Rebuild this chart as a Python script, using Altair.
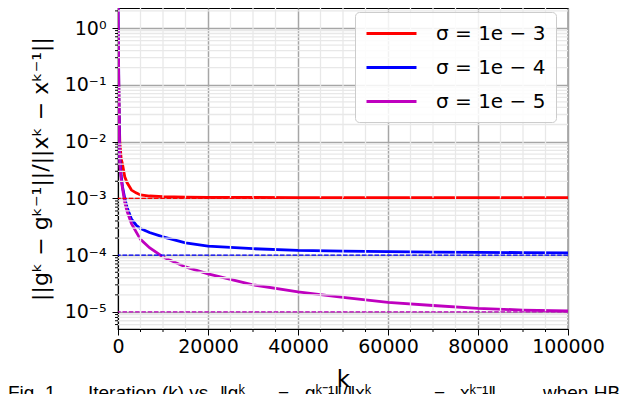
import altair as alt
import pandas as pd

# ---- data ----
k_vals = [0, 100, 200, 400, 700, 1000, 1500, 2000, 3000, 4000, 5000, 7000,
          10000, 15000, 20000, 30000, 40000, 50000, 60000, 70000, 80000, 90000, 100000]
sigma_3 = [0.5, 0.3, 0.05, 0.01, 0.005, 0.004, 0.0024, 0.0019, 0.0014, 0.00125, 0.00115, 0.0011,
           0.00107, 0.00105, 0.00104, 0.00104, 0.00103, 0.00103, 0.00103, 0.00103, 0.00103, 0.00103, 0.00103]
sigma_4 = [2.5, 0.5, 0.05, 0.005, 0.0025, 0.0016, 0.001, 0.0007, 0.00043, 0.00034, 0.000295, 0.00025,
           0.00021, 0.000165, 0.000144, 0.00013, 0.000121, 0.000118, 0.000115, 0.000113, 0.000112, 0.000111, 0.00011]
sigma_5 = [2.5, 0.5, 0.05, 0.004, 0.0022, 0.0015, 0.00085, 0.0006, 0.00036, 0.00026, 0.00019, 0.000135,
           0.000093, 0.000062, 0.000047, 0.00003, 0.0000225, 0.000018, 0.0000148, 0.000013, 0.0000116, 0.0000108, 0.0000104]
series_labels = ["σ = 1e − 3", "σ = 1e − 4", "σ = 1e − 5"]
series_colors = ["#ff0000", "#0000ff", "#bf00bf"]
target_values = [1e-3, 1e-4, 1e-5]

x_major = [0, 20000, 40000, 60000, 80000, 100000]
x_minor = [v for v in range(0, 100001, 5000) if v % 20000 != 0]
Y_MIN, Y_MAX = 5.01e-6, 2.25
y_major = [1e-5, 1e-4, 1e-3, 1e-2, 1e-1, 1.0]
y_minor = [m * 10.0 ** d for d in range(-6, 1) for m in range(2, 10) if Y_MIN <= m * 10.0 ** d <= Y_MAX]

# caption pieces (text) and where they start (layout, page x minus plot left)
caption_pieces = ["Fig. 1.", "Iteration (k) vs.", "‖gᵏ", "−", "gᵏ⁻¹‖/‖xᵏ", "−", "xᵏ⁻¹‖", "when HB"]
caption_x = [-110, -30, 102, 160, 187, 316, 342, 425]

W, H = 450, 321

rows = []
for lab, vals in zip(series_labels, [sigma_3, sigma_4, sigma_5]):
    for k, v in zip(k_vals, vals):
        rows.append({"k": k, "v": v, "s": lab})
curves_df = pd.DataFrame(rows)
targets_df = pd.DataFrame({"v": target_values, "s": series_labels})
xminor_df = pd.DataFrame({"k": x_minor})
yminor_df = pd.DataFrame({"v": y_minor})

xs = alt.Scale(domain=[0, 100000], nice=False, zero=False)
ys = alt.Scale(type="log", domain=[Y_MIN, Y_MAX], nice=False)
cs = alt.Scale(domain=series_labels, range=series_colors)

label_expr = ("datum.value > 0.5 ? '10⁰' : datum.value > 0.05 ? '10⁻¹' : "
              "datum.value > 0.005 ? '10⁻²' : datum.value > 0.0005 ? '10⁻³' : "
              "datum.value > 0.00005 ? '10⁻⁴' : '10⁻⁵'")

x_axis = alt.Axis(values=x_major, format="d", title="k", titleFontSize=23,
                  titleFontWeight="normal", titleColor="black", titleY=57,
                  titleBaseline="alphabetic",
                  labelFontSize=19, labelColor="black", labelPadding=2,
                  labelFlush=False, labelOverlap=False,
                  tickSize=6, tickColor="black", tickWidth=1,
                  domainColor="black", domainWidth=1,
                  grid=True, gridColor="#a6a6a6", gridWidth=1.5)
y_axis = alt.Axis(values=y_major, labelExpr=label_expr,
                  title="||gᵏ − gᵏ⁻¹||/||xᵏ − xᵏ⁻¹||", titleFontSize=22,
                  titleFontWeight="normal", titleColor="black",
                  titleX=-71, titleY=H / 2, titleBaseline="alphabetic",
                  labelFontSize=19, labelColor="black", labelPadding=6,
                  labelOverlap=False, labelFlush=False,
                  tickSize=6, tickColor="black", tickWidth=1,
                  domainColor="black", domainWidth=1,
                  grid=True, gridColor="#a6a6a6", gridWidth=1.5)

X = alt.X("k:Q", scale=xs, axis=x_axis)
Y = alt.Y("v:Q", scale=ys, axis=y_axis)

color = alt.Color("s:N", scale=cs,
                  legend=alt.Legend(orient="none", legendX=237, legendY=4, title=None,
                                    symbolType="M-2.5,0H2.5", symbolSize=400,
                                    symbolOffset=15, symbolStrokeWidth=3,
                                    labelFontSize=20, labelColor="black",
                                    labelOffset=33, rowPadding=12, padding=10,
                                    fillColor="rgba(255,255,255,0.85)",
                                    strokeColor="#cccccc", cornerRadius=4))

minor_v = alt.Chart(xminor_df).mark_rule(color="#e8e8e8", strokeWidth=1.3).encode(x=X)
minor_h = alt.Chart(yminor_df).mark_rule(color="#e8e8e8", strokeWidth=1.3).encode(y=Y)
minor_xt = alt.Chart(xminor_df).mark_rule(color="black", strokeWidth=1).encode(
    x=X, y=alt.value(H), y2=alt.value(H + 3))
minor_yt = alt.Chart(yminor_df).mark_rule(color="black", strokeWidth=1).encode(
    y=Y, x=alt.value(-3), x2=alt.value(0))
dashed = alt.Chart(targets_df).mark_rule(strokeWidth=1.3, strokeDash=[4.5, 1.8]).encode(
    y=Y, color=alt.Color("s:N", scale=cs, legend=None))
lines = alt.Chart(curves_df).mark_line(strokeWidth=2.8, clip=True).encode(
    x=X, y=Y, color=color, order="k:Q")

cap_layers = []
for txt, cx in zip(caption_pieces, caption_x):
    cap_layers.append(
        alt.Chart(pd.DataFrame({"t": [txt]})).mark_text(
            font="Liberation Sans", fontSize=19, align="left", baseline="alphabetic",
            color="black"
        ).encode(text="t:N", x=alt.value(cx), y=alt.value(391))
    )

chart = alt.layer(lines, minor_v, minor_h, dashed, minor_xt, minor_yt, *cap_layers).properties(
    width=W, height=H,
    autosize=alt.AutoSizeParams(type="none"),
    padding={"left": 110, "top": 0, "right": 60, "bottom": 65},
).configure(font="DejaVu Sans").configure_view(stroke="black", strokeWidth=1.2)

chart.save("out.html", embed_options={"renderer": "svg", "actions": False})
